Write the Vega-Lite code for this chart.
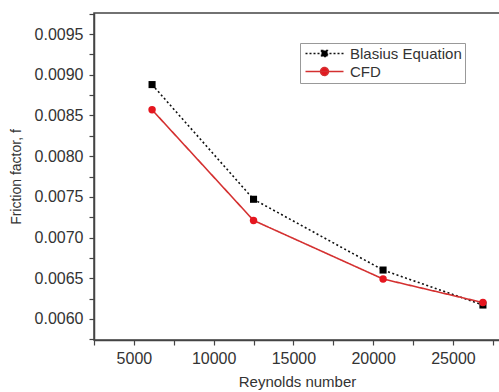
{
  "$schema": "https://vega.github.io/schema/vega-lite/v6.json",
  "autosize": "none",
  "width": 406,
  "height": 327,
  "padding": {"left": 94, "top": 13, "right": 0, "bottom": 52},
  "background": "white",
  "config": {
    "font": "Liberation Sans",
    "view": {"stroke": "#444", "strokeWidth": 1.5},
    "axis": {
      "grid": false,
      "domainColor": "#444",
      "domainWidth": 1.5,
      "tickColor": "#444",
      "tickWidth": 1.2,
      "tickSize": 5,
      "labelFont": "Liberation Sans",
      "labelFontSize": 16,
      "labelColor": "#333",
      "titleFont": "Liberation Sans",
      "titleFontWeight": "normal",
      "titleColor": "#333"
    }
  },
  "data": {
    "values": [
      {"Re": 6140, "f": 0.00888, "series": "Blasius Equation"},
      {"Re": 12500, "f": 0.00747, "series": "Blasius Equation"},
      {"Re": 20620, "f": 0.00660, "series": "Blasius Equation"},
      {"Re": 26880, "f": 0.00617, "series": "Blasius Equation"},
      {"Re": 6140, "f": 0.00857, "series": "CFD"},
      {"Re": 12500, "f": 0.00721, "series": "CFD"},
      {"Re": 20620, "f": 0.00649, "series": "CFD"},
      {"Re": 26880, "f": 0.00620, "series": "CFD"}
    ]
  },
  "encoding": {
    "x": {
      "field": "Re", "type": "quantitative",
      "scale": {"domain": [2500, 27950], "nice": false, "zero": false},
      "axis": {
        "title": "Reynolds number",
        "titleFontSize": 15,
        "titlePadding": 8,
        "labelPadding": 5,
        "values": [2500, 5000, 7500, 10000, 12500, 15000, 17500, 20000, 22500, 25000, 27500],
        "labelExpr": "datum.value % 5000 == 0 ? format(datum.value, 'd') : ''"
      }
    },
    "y": {
      "field": "f", "type": "quantitative",
      "scale": {"domain": [0.00574, 0.00976], "nice": false, "zero": false},
      "axis": {
        "title": "Friction factor, f",
        "titleFontSize": 14,
        "titlePadding": 11,
        "labelPadding": 6,
        "values": [0.00575, 0.006, 0.00625, 0.0065, 0.00675, 0.007, 0.00725, 0.0075, 0.00775, 0.008, 0.00825, 0.0085, 0.00875, 0.009, 0.00925, 0.0095, 0.00975],
        "labelExpr": "round(datum.value * 20000) % 10 == 0 ? format(datum.value, '.4f') : ''"
      }
    }
  },
  "layer": [
    {
      "mark": {"type": "line", "strokeWidth": 1.6},
      "encoding": {
        "color": {
          "field": "series", "type": "nominal",
          "scale": {"domain": ["Blasius Equation", "CFD"], "range": ["#111111", "#d43030"]},
          "legend": {
            "title": null,
            "orient": "none",
            "legendX": 206,
            "legendY": 30,
            "padding": 3,
            "labelFont": "Liberation Sans",
            "labelFontSize": 15,
            "labelColor": "#333",
            "symbolSize": 100,
            "labelOffset": 32,
            "rowPadding": 2,
            "symbolStrokeWidth": 1.4,
            "encode": {
              "legend": {
                "update": {
                  "stroke": {"value": "#999999"},
                  "strokeWidth": {"value": 1},
                  "fill": {"value": "white"}
                }
              },
              "symbols": {
                "update": {
                  "shape": {"signal": "datum.value === 'CFD' ? 'M-1,0H6.6M3.6,0A0.8,0.8 0 1,1 2,0A0.8,0.8 0 1,1 3.6,0Z' : 'M-1,0H-0.6M-0.2,0H0.2M0.6,0H1M1.4,0H1.8M2.2,-0.6H3.4V0.6H2.2ZM3.8,0H4.2M4.6,0H5M5.4,0H5.8M6.2,0H6.6'"},
                  "fill": {"signal": "datum.value === 'CFD' ? '#e5161f' : '#000000'"},
                  "fillOpacity": {"value": 1}
                }
              }
            }
          }
        },
        "strokeDash": {
          "field": "series", "type": "nominal",
          "scale": {"domain": ["Blasius Equation", "CFD"], "range": [[2, 2.5], [1, 0]]},
          "legend": null
        }
      }
    },
    {
      "transform": [{"filter": "datum.series === 'Blasius Equation'"}],
      "mark": {"type": "point", "filled": true, "opacity": 1, "size": 50, "shape": "square", "color": "#000000"}
    },
    {
      "transform": [{"filter": "datum.series === 'CFD'"}],
      "mark": {"type": "point", "filled": true, "opacity": 1, "size": 55, "shape": "circle", "color": "#e5161f"}
    }
  ]
}
